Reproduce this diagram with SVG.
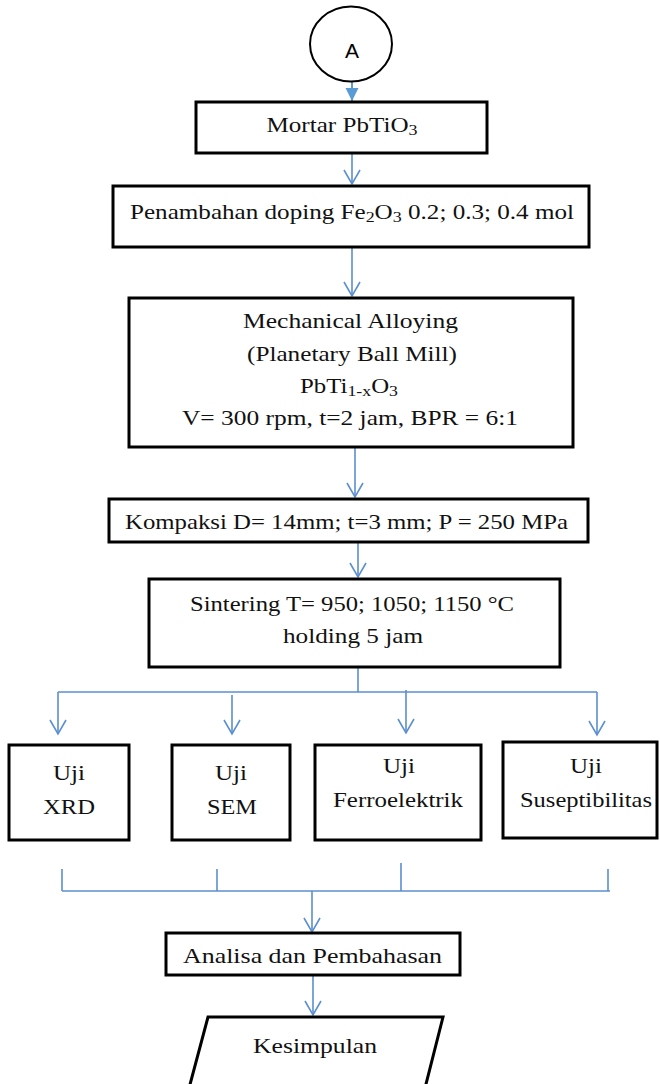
<svg xmlns="http://www.w3.org/2000/svg" width="660" height="1084" viewBox="0 0 660 1084">
<style>
.box{fill:#fff;stroke:#000;stroke-width:3}
.t{font-family:"Liberation Serif","Times New Roman",serif;font-size:21px;fill:#111;text-anchor:middle}
.u{font-size:22px}
.c{fill:none;stroke:#5B8FCF;stroke-width:1.6}
.ca{fill:none;stroke:#5B8FCF;stroke-width:1.6;marker-end:url(#open)}
</style>
<defs>
<marker id="open" markerUnits="userSpaceOnUse" markerWidth="18" markerHeight="18" refX="14" refY="8" orient="auto" overflow="visible">
<path d="M0,0 L14,8 L0,16" fill="none" stroke="#5B8FCF" stroke-width="1.6"/>
</marker>
<marker id="solid" markerUnits="userSpaceOnUse" markerWidth="16" markerHeight="16" refX="13" refY="6.5" orient="auto">
<path d="M0,0 L13,6.5 L0,13 Z" fill="#5B9BD5"/>
</marker>
</defs>

<g id="connectors">
<line x1="352" y1="81" x2="352" y2="101" stroke="#5B9BD5" stroke-width="2" marker-end="url(#solid)"/>
<line class="ca" x1="352" y1="154" x2="352" y2="184"/>
<line class="ca" x1="352" y1="248" x2="352" y2="296"/>
<line class="ca" x1="355" y1="448" x2="355" y2="497"/>
<line class="ca" x1="358" y1="543" x2="358" y2="577"/>
<line class="c" x1="358" y1="668" x2="358" y2="692"/>
<line class="c" x1="58" y1="692" x2="597" y2="692"/>
<line class="ca" x1="58" y1="692" x2="58" y2="734"/>
<line class="ca" x1="232" y1="695" x2="232" y2="734"/>
<line class="ca" x1="406" y1="690" x2="406" y2="733"/>
<line class="ca" x1="597" y1="692" x2="597" y2="735"/>
<line class="c" x1="62" y1="891" x2="610" y2="891"/>
<line class="c" x1="62" y1="869" x2="62" y2="891"/>
<line class="c" x1="217" y1="869" x2="217" y2="891"/>
<line class="c" x1="401" y1="863" x2="401" y2="891"/>
<line class="c" x1="608" y1="869" x2="608" y2="891"/>
<line class="ca" x1="312" y1="891" x2="312" y2="932"/>
<line class="ca" x1="313" y1="976" x2="313" y2="1015"/>
</g>

<g id="node-A">
<ellipse cx="351" cy="44" rx="41" ry="37.5" fill="#fff" stroke="#000" stroke-width="2"/>
<text x="352" y="58" font-family="Liberation Sans, Arial, sans-serif" font-size="21" text-anchor="middle" fill="#000">A</text>
</g>

<g id="node-mortar">
<rect class="box" x="196" y="102" width="291" height="51"/>
<text class="t" x="342" y="132" textLength="151" lengthAdjust="spacingAndGlyphs">Mortar PbTiO<tspan dy="3" font-size="15">3</tspan></text>
</g>

<g id="node-doping">
<rect class="box" x="113" y="186" width="476" height="61"/>
<text class="t" x="352" y="219" textLength="444" lengthAdjust="spacingAndGlyphs">Penambahan doping Fe<tspan dy="3" font-size="15">2</tspan><tspan dy="-3">O</tspan><tspan dy="3" font-size="15">3</tspan><tspan dy="-3"> 0.2; 0.3; 0.4 mol</tspan></text>
</g>

<g id="node-ma">
<rect class="box" x="129" y="298" width="444" height="149"/>
<text class="t" x="350.5" y="328" textLength="215" lengthAdjust="spacingAndGlyphs">Mechanical Alloying</text>
<text class="t" x="352" y="361" textLength="210" lengthAdjust="spacingAndGlyphs">(Planetary Ball Mill)</text>
<text class="t" x="349" y="393" textLength="98" lengthAdjust="spacingAndGlyphs">PbTi<tspan dy="3" font-size="15">1-x</tspan><tspan dy="-3">O</tspan><tspan dy="3" font-size="15">3</tspan></text>
<text class="t" x="350" y="425" textLength="336" lengthAdjust="spacingAndGlyphs">V= 300 rpm, t=2 jam, BPR = 6:1</text>
</g>

<g id="node-kompaksi">
<rect class="box" x="109" y="499" width="479" height="43"/>
<text class="t" x="346.5" y="529" textLength="443" lengthAdjust="spacingAndGlyphs">Kompaksi D= 14mm; t=3 mm; P = 250 MPa</text>
</g>

<g id="node-sintering">
<rect class="box" x="149" y="579" width="411" height="88"/>
<text class="t" x="352" y="611" textLength="324" lengthAdjust="spacingAndGlyphs">Sintering T= 950; 1050; 1150 °C</text>
<text class="t" x="353" y="643" textLength="140" lengthAdjust="spacingAndGlyphs">holding 5 jam</text>
</g>

<g id="node-xrd">
<rect class="box" x="9" y="745" width="120" height="95"/>
<text class="t u" x="69" y="780" textLength="32" lengthAdjust="spacingAndGlyphs">Uji</text>
<text class="t u" x="69" y="814" textLength="52" lengthAdjust="spacingAndGlyphs">XRD</text>
</g>

<g id="node-sem">
<rect class="box" x="172" y="745" width="118" height="95"/>
<text class="t u" x="231" y="780" textLength="32" lengthAdjust="spacingAndGlyphs">Uji</text>
<text class="t u" x="232" y="814" textLength="50" lengthAdjust="spacingAndGlyphs">SEM</text>
</g>

<g id="node-ferro">
<rect class="box" x="315" y="745" width="166" height="95"/>
<text class="t u" x="399" y="773" textLength="32" lengthAdjust="spacingAndGlyphs">Uji</text>
<text class="t u" x="398" y="807" textLength="130" lengthAdjust="spacingAndGlyphs">Ferroelektrik</text>
</g>

<g id="node-susep">
<rect class="box" x="503" y="742" width="154" height="96"/>
<text class="t u" x="586" y="773" textLength="32" lengthAdjust="spacingAndGlyphs">Uji</text>
<text class="t u" x="586" y="807" textLength="132" lengthAdjust="spacingAndGlyphs">Suseptibilitas</text>
</g>

<g id="node-analisa">
<rect class="box" x="166" y="933" width="294" height="42"/>
<text class="t" x="312.5" y="963" textLength="259" lengthAdjust="spacingAndGlyphs">Analisa dan Pembahasan</text>
</g>

<g id="node-kesimpulan">
<polygon class="box" points="208,1017 443,1017 424,1092 188,1092"/>
<text class="t" x="315" y="1053" textLength="124" lengthAdjust="spacingAndGlyphs">Kesimpulan</text>
</g>
</svg>
